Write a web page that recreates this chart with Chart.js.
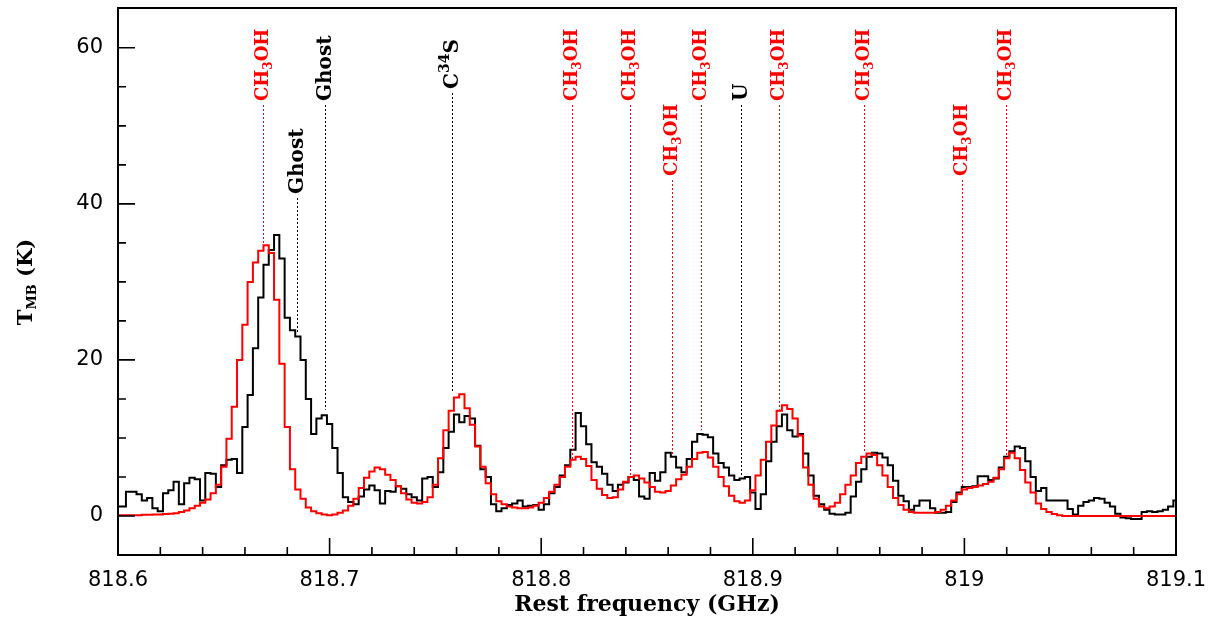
<!DOCTYPE html>
<html>
<head>
<meta charset="utf-8">
<title>Spectrum 818.6 - 819.1 GHz</title>
<script src="https://cdn.jsdelivr.net/npm/chart.js@4.4.1/dist/chart.umd.min.js"></script>
<style>
  html, body { margin: 0; padding: 0; background: #fff; }
  canvas { display: block; }
</style>
</head>
<body>
<canvas id="spectrum" width="1209" height="621"></canvas>
<script>
// Channel grid of the spectrum (GHz)
const freqStart = 818.6;
const channelWidth = 0.0025;

// Observed spectrum, T_MB (K), one value per channel (black histogram)
const observed = [
  1.2, 1.2, 3.1, 3.1, 2.8, 2.0, 2.3, 1.0, 0.6, 2.9,
  3.3, 4.4, 1.5, 4.2, 4.9, 4.7, 2.0, 5.5, 5.4, 3.7,
  6.5, 7.2, 7.3, 5.5, 11.4, 15.5, 21.5, 28.0, 32.2, 34.1,
  36.0, 33.0, 25.4, 23.8, 23.0, 20.0, 15.0, 10.5, 12.5, 12.9,
  11.8, 8.7, 5.5, 2.4, 1.8, 1.5, 2.5, 3.4, 3.9, 3.3,
  1.6, 3.2, 3.1, 3.8, 3.5, 2.8, 2.4, 2.0, 4.8, 5.0,
  3.7, 5.6, 8.7, 10.8, 13.0, 12.0, 12.8, 12.5, 9.0, 6.0,
  5.0, 1.5, 0.6, 1.0, 1.4, 1.6, 2.0, 1.2, 1.3, 1.4,
  0.8, 1.5, 2.9, 3.7, 5.2, 6.5, 8.5, 13.2, 11.5, 9.2,
  6.9, 6.3, 5.4, 4.0, 3.2, 4.0, 4.3, 5.0, 4.6, 2.5,
  2.2, 5.5, 4.5, 5.6, 8.1, 7.6, 6.2, 5.6, 7.3, 9.5,
  10.5, 10.4, 10.1, 8.0, 6.8, 6.2, 5.2, 4.6, 4.8, 5.0,
  3.0, 0.9, 2.8, 7.0, 9.5, 11.5, 13.0, 11.0, 10.2, 10.5,
  8.0, 5.2, 2.6, 1.5, 0.8, 0.3, 0.2, 0.2, 0.4, 2.5,
  4.4, 6.0, 7.6, 8.1, 8.0, 7.5, 6.5, 4.5, 2.6, 1.9,
  0.8, 1.3, 2.0, 2.0, 1.0, 0.4, 0.4, 0.5, 1.8, 3.0,
  3.7, 3.7, 3.8, 5.1, 5.1, 4.6, 4.8, 6.2, 7.6, 8.3,
  8.9, 8.7, 7.0, 5.0, 3.2, 3.6, 2.0, 2.0, 2.0, 2.0,
  0.9, 0.2, 1.3, 1.8, 2.0, 2.3, 2.2, 1.7, 1.2, 0.3,
  -0.2, -0.3, -0.4, -0.4, 0.5, 0.6, 0.5, 0.6, 0.8, 1.2,
  2.0
];

// Model spectrum, T_MB (K) (red histogram)
const model = [
  0.1, 0.1, 0.1, 0.1, 0.1, 0.15, 0.15, 0.2, 0.2, 0.25,
  0.3, 0.35, 0.5, 0.7, 1.0, 1.3, 1.7, 2.1, 2.9, 4.0,
  6.3, 9.9, 14.0, 20.0, 24.5, 30.0, 32.5, 34.0, 34.7, 33.7,
  27.7, 19.5, 11.4, 6.0, 3.4, 2.2, 1.1, 0.6, 0.35, 0.2,
  0.1, 0.2, 0.4, 0.7, 1.3, 2.2, 3.6, 4.9, 5.7, 6.2,
  6.0, 5.3, 4.6, 3.8, 2.9, 2.1, 1.7, 1.6, 1.8, 2.4,
  4.0, 7.4, 11.0, 13.5, 15.2, 15.6, 13.8, 11.7, 8.9, 6.3,
  4.2, 2.8, 1.9, 1.5, 1.2, 1.1, 1.0, 1.0, 1.1, 1.3,
  1.7, 2.3, 3.1, 4.0, 5.0, 6.3, 7.2, 7.6, 7.3, 6.4,
  4.6, 3.5, 2.7, 2.3, 2.4, 3.4, 4.4, 5.0, 5.2, 4.8,
  4.3, 3.7, 3.1, 3.0, 3.2, 3.9, 4.7, 5.3, 6.3, 7.3,
  8.1, 8.2, 7.5, 6.3, 5.0, 3.8, 2.6, 1.9, 1.7, 2.0,
  3.3, 5.2, 7.2, 9.5, 11.6, 13.5, 14.2, 13.7, 12.5, 10.3,
  6.2, 4.0, 2.2, 1.2, 1.0, 1.2, 1.7, 2.8, 4.0, 5.2,
  6.8, 7.6, 8.0, 7.8, 6.5, 5.2, 3.7, 2.3, 1.4, 0.8,
  0.5, 0.4, 0.4, 0.4, 0.4, 0.5, 0.8, 1.3, 2.0, 2.8,
  3.4, 3.6, 3.7, 3.9, 4.1, 4.4, 4.9, 6.0, 7.4, 8.1,
  7.4, 5.9, 4.3, 3.0, 1.6, 0.9, 0.5, 0.25, 0.1, 0.0,
  0.0, 0.0, 0.0, 0.0, 0.0, 0.0, 0.0, 0.0, 0.0, 0.0,
  0.0, 0.0, 0.0, 0.0, 0.0, 0.0, 0.0, 0.0, 0.0, 0.0,
  0.0
];

// Axis ticks
const xTicks = [818.6, 818.7, 818.8, 818.9, 819.0, 819.1];
const yTicks = [0, 20, 40, 60];
const xMinorStep = 0.02;
const yMinorStep = 5;

// Line identifications: frequency (GHz), species, label row, T_MB where the marker stops
const lineFreqs = [818.6685, 818.6846, 818.6978, 818.7578, 818.8146, 818.8420, 818.8618,
                   818.8753, 818.8944, 818.9126, 818.9526, 818.9989, 819.0197];
const lineNames = ['CH_3OH', 'Ghost', 'Ghost', 'C^34S', 'CH_3OH', 'CH_3OH', 'CH_3OH',
                   'CH_3OH', 'U', 'CH_3OH', 'CH_3OH', 'CH_3OH', 'CH_3OH'];
const lineRows = [0, 2, 0, 3, 0, 0, 1, 0, 0, 0, 0, 1, 0];
const lineEnds = [34.7, 23.4, 13.6, 15.8, 7.2, 5.2, 7.8, 11.0, 5.0, 13.6, 8.1, 3.3, 7.8];

const RED = '#ff0000';
const rowStart = [101, 176, 194, 89]; // pixel y where the rotated label text begins

function toPoints(values) {
    return values.map((v, i) => ({ x: freqStart + i * channelWidth, y: v }));
}

// split 'CH_3OH' / 'C^34S' into normal, sub and superscript pieces
function labelParts(name, size) {
    const parts = [];
    const re = /([_^])(\d+)/g;
    let last = 0, m;
    while ((m = re.exec(name)) !== null) {
        if (m.index > last) parts.push({ text: name.slice(last, m.index), size: size, shift: 0 });
        parts.push({ text: m[2], size: Math.round(size * 0.68), shift: m[1] === '_' ? size * 0.3 : -size * 0.38 });
        last = re.lastIndex;
    }
    if (last < name.length) parts.push({ text: name.slice(last), size: size, shift: 0 });
    return parts;
}

function drawRotated(ctx, x, y, parts, family, weight, color) {
    ctx.save();
    ctx.translate(x, y);
    ctx.rotate(-Math.PI / 2);
    ctx.fillStyle = color;
    ctx.textBaseline = 'middle';
    ctx.textAlign = 'left';
    let pos = 0;
    parts.forEach(p => {
        ctx.font = `${weight} ${p.size}px ${family}`;
        ctx.fillText(p.text, pos, p.shift);
        pos += ctx.measureText(p.text).width;
    });
    ctx.restore();
    return pos;
}

function measureParts(ctx, parts, family, weight) {
    let w = 0;
    ctx.save();
    parts.forEach(p => {
        ctx.font = `${weight} ${p.size}px ${family}`;
        w += ctx.measureText(p.text).width;
    });
    ctx.restore();
    return w;
}

const decorations = {
    id: 'decorations',
    afterDraw(chart) {
        const ctx = chart.ctx;
        const area = chart.chartArea;
        const xs = chart.scales.x;
        const ys = chart.scales.y;

        // frame
        ctx.save();
        ctx.strokeStyle = '#000';
        ctx.lineWidth = 2;
        ctx.strokeRect(area.left, area.top, area.right - area.left, area.bottom - area.top);

        // inward ticks
        ctx.lineWidth = 1.6;
        ctx.beginPath();
        for (let v = xTicks[0]; v <= xTicks[xTicks.length - 1] + 1e-6; v += xMinorStep) {
            const px = xs.getPixelForValue(v);
            const major = xTicks.some(t => Math.abs(t - v) < 1e-6);
            ctx.moveTo(px, area.bottom);
            ctx.lineTo(px, area.bottom - (major ? 17 : 8));
        }
        for (let v = 0; v <= 60; v += yMinorStep) {
            const py = ys.getPixelForValue(v);
            const major = yTicks.includes(v);
            ctx.moveTo(area.left, py);
            ctx.lineTo(area.left + (major ? 17 : 8), py);
        }
        ctx.stroke();

        // line markers and labels
        lineFreqs.forEach((f, i) => {
            const name = lineNames[i];
            const color = name === 'CH_3OH' ? RED : '#000';
            const px = Math.round(xs.getPixelForValue(f)) + 0.5;
            const y0 = rowStart[lineRows[i]];
            const size = name === 'CH_3OH' ? 18 : 20;
            drawRotated(ctx, px, y0, labelParts(name, size), '"DejaVu Serif"', 'bold', color);
            ctx.save();
            ctx.strokeStyle = color;
            ctx.lineWidth = 1;
            ctx.setLineDash([2, 2]);
            ctx.beginPath();
            ctx.moveTo(px, y0 + 4);
            ctx.lineTo(px, ys.getPixelForValue(lineEnds[i]));
            ctx.stroke();
            ctx.restore();
        });

        // axis titles
        ctx.fillStyle = '#000';
        ctx.font = 'bold 22px "DejaVu Serif"';
        ctx.textAlign = 'center';
        ctx.textBaseline = 'middle';
        ctx.fillText('Rest frequency (GHz)', (area.left + area.right) / 2, 605);

        const yParts = [
            { text: 'T', size: 21, shift: 0 },
            { text: 'MB', size: 13, shift: 6 },
            { text: ' (K)', size: 21, shift: 0 }
        ];
        const len = measureParts(ctx, yParts, '"DejaVu Serif"', 'bold');
        drawRotated(ctx, 27, 282 + len / 2, yParts, '"DejaVu Serif"', 'bold', '#000');
        ctx.restore();
    }
};

// keep the plot frame exactly where the layout padding puts it
function noOverflow(axis) {
    axis.paddingTop = 0;
    axis.paddingBottom = 0;
    axis.paddingLeft = 0;
    axis.paddingRight = 0;
}

const tickFont = { family: '"DejaVu Sans"', size: 21 };

new Chart(document.getElementById('spectrum'), {
    type: 'line',
    data: {
        datasets: [
            {
                label: 'Model',
                data: toPoints(model),
                borderColor: RED,
                borderWidth: 2,
                stepped: 'middle',
                pointRadius: 0,
                fill: false
            },
            {
                label: 'Observed',
                data: toPoints(observed),
                borderColor: '#000',
                borderWidth: 2,
                stepped: 'middle',
                pointRadius: 0,
                fill: false
            }
        ]
    },
    options: {
        responsive: false,
        devicePixelRatio: 1,
        animation: false,
        layout: { padding: { top: 8, right: 33, left: 0, bottom: 0 } },
        plugins: {
            legend: { display: false },
            tooltip: { enabled: false }
        },
        scales: {
            x: {
                type: 'linear',
                min: 818.6,
                max: 819.1,
                grid: { display: false, drawTicks: false },
                border: { display: false },
                afterBuildTicks: axis => { axis.ticks = xTicks.map(v => ({ value: v })); },
                afterFit: axis => { axis.height = 66; noOverflow(axis); },
                ticks: {
                    color: '#000',
                    font: tickFont,
                    padding: 13,
                    maxRotation: 0,
                    autoSkip: false,
                    callback: v => String(Number(v.toFixed(1)))
                }
            },
            y: {
                type: 'linear',
                min: -5,
                max: 65.1,
                grid: { display: false, drawTicks: false },
                border: { display: false },
                afterBuildTicks: axis => { axis.ticks = yTicks.map(v => ({ value: v })); },
                afterFit: axis => { axis.width = 118; noOverflow(axis); },
                ticks: {
                    color: '#000',
                    font: tickFont,
                    padding: 15
                }
            }
        }
    },
    plugins: [decorations]
});
</script>
</body>
</html>
